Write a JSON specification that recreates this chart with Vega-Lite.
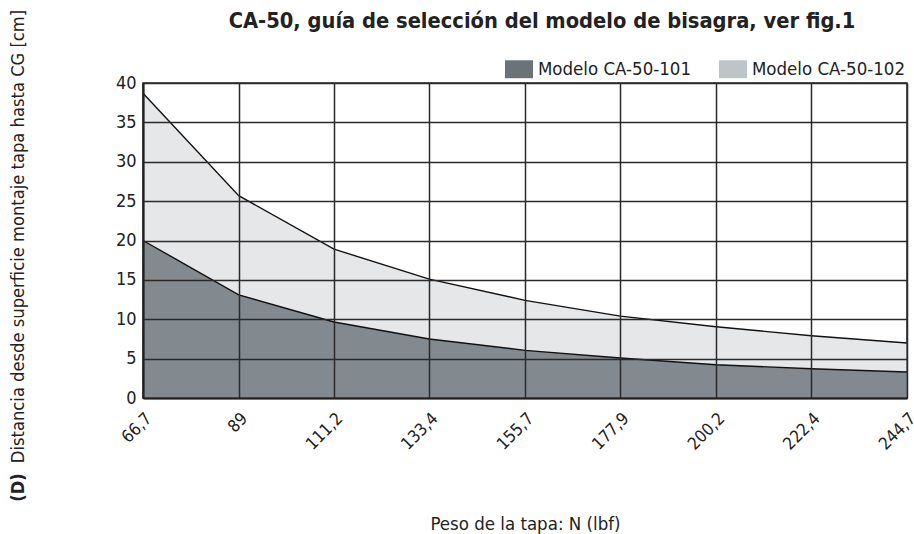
{
  "$schema": "https://vega.github.io/schema/vega-lite/v6.json",
  "width": 764,
  "height": 315,
  "autosize": {"type": "none"},
  "padding": {"left": 143, "top": 83, "right": 7, "bottom": 136},
  "background": "white",
  "title": {
    "text": "CA-50, guía de selección del modelo de bisagra, ver fig.1",
    "fontSize": 21.7,
    "fontWeight": "bold",
    "color": "#222222",
    "anchor": "middle",
    "dx": 17,
    "offset": -23
  },
  "data": {
    "values": [
      {"peso": 66.7, "modelo": "Modelo CA-50-101", "d": 20.0},
      {"peso": 89, "modelo": "Modelo CA-50-101", "d": 13.1},
      {"peso": 111.2, "modelo": "Modelo CA-50-101", "d": 9.65},
      {"peso": 133.4, "modelo": "Modelo CA-50-101", "d": 7.5},
      {"peso": 155.7, "modelo": "Modelo CA-50-101", "d": 6.05},
      {"peso": 177.9, "modelo": "Modelo CA-50-101", "d": 5.08},
      {"peso": 200.2, "modelo": "Modelo CA-50-101", "d": 4.23},
      {"peso": 222.4, "modelo": "Modelo CA-50-101", "d": 3.72},
      {"peso": 244.7, "modelo": "Modelo CA-50-101", "d": 3.3},
      {"peso": 66.7, "modelo": "Modelo CA-50-102", "d": 38.7},
      {"peso": 89, "modelo": "Modelo CA-50-102", "d": 25.7},
      {"peso": 111.2, "modelo": "Modelo CA-50-102", "d": 18.9},
      {"peso": 133.4, "modelo": "Modelo CA-50-102", "d": 15.1},
      {"peso": 155.7, "modelo": "Modelo CA-50-102", "d": 12.4},
      {"peso": 177.9, "modelo": "Modelo CA-50-102", "d": 10.4},
      {"peso": 200.2, "modelo": "Modelo CA-50-102", "d": 9.05},
      {"peso": 222.4, "modelo": "Modelo CA-50-102", "d": 7.9},
      {"peso": 244.7, "modelo": "Modelo CA-50-102", "d": 6.98}
    ]
  },
  "layer": [
    {
      "transform": [{"filter": "datum.modelo == 'Modelo CA-50-102'"}],
      "mark": {"type": "area", "interpolate": "linear", "fillOpacity": 0.4},
      "encoding": {
        "x": {
          "field": "peso", "type": "quantitative",
          "scale": {"domain": [66.7, 244.7], "nice": false, "zero": false},
          "axis": {
            "title": "Peso de la tapa: N (lbf)",
            "values": [66.7, 89, 111.2, 133.4, 155.7, 177.9, 200.2, 222.4, 244.7],
            "labelExpr": "replace(toString(datum.value), '.', ',')",
            "labelAngle": -45,
            "labelFontSize": 17,
            "labelPadding": 12,
            "titleFontSize": 18.5,
            "titleFontWeight": "normal",
            "titlePadding": 62,
            "zindex": 1
          }
        },
        "y": {
          "field": "d", "type": "quantitative",
          "scale": {"domain": [0, 40], "nice": false},
          "axis": {
            "title": "Distancia desde superficie montaje tapa hasta CG [cm]",
            "values": [0, 5, 10, 15, 20, 25, 30, 35, 40],
            "labelFontSize": 18,
            "labelPadding": 7,
            "titleFontSize": 18.2,
            "titleFontWeight": "normal",
            "titleX": -125,
            "titleY": 153,
            "titleAlign": "center",
            "titleBaseline": "middle",
            "orient": "left",
            "zindex": 1
          }
        },
        "color": {
          "field": "modelo", "type": "nominal",
          "scale": {"domain": ["Modelo CA-50-101", "Modelo CA-50-102"], "range": ["#697378", "#bec4c7"]},
          "legend": {
            "title": null,
            "orient": "none",
            "direction": "horizontal",
            "legendX": 362,
            "legendY": -28,
            "labelFontSize": 18.5,
            "labelLimit": 400,
            "labelOffset": 5,
            "columnPadding": 28,
            "symbolType": "M-1,-0.64L1,-0.64L1,0.64L-1,0.64Z",
            "symbolSize": 784,
            "symbolStrokeWidth": 0,
            "symbolOpacity": 1
          }
        }
      }
    },
    {
      "transform": [{"filter": "datum.modelo == 'Modelo CA-50-101'"}],
      "mark": {"type": "area", "interpolate": "linear", "fillOpacity": 0.8},
      "encoding": {
        "x": {"field": "peso", "type": "quantitative"},
        "y": {
          "field": "d", "type": "quantitative",
          "axis": {
            "title": "(D)",
            "orient": "left",
            "labels": false,
            "ticks": false,
            "domain": false,
            "grid": false,
            "titleFontSize": 18.2,
            "titleFontWeight": "bold",
            "titleX": -125,
            "titleY": 404,
            "titleAlign": "center",
            "titleBaseline": "middle",
            "zindex": 1
          }
        },
        "color": {"field": "modelo", "type": "nominal"}
      }
    },
    {
      "mark": {"type": "line", "interpolate": "linear", "color": "#111111", "strokeWidth": 1.4},
      "encoding": {
        "x": {"field": "peso", "type": "quantitative"},
        "y": {"field": "d", "type": "quantitative", "axis": null},
        "detail": {"field": "modelo", "type": "nominal"}
      }
    }
  ],
  "resolve": {"axis": {"y": "independent"}},
  "config": {
    "font": "DejaVu Sans Condensed, Roboto Condensed, Roboto, sans-serif",
    "view": {"stroke": "#222222", "strokeWidth": 1.5},
    "axis": {
      "zindex": 1,
      "grid": true,
      "gridColor": "#2a2a2a",
      "gridWidth": 1.5,
      "gridOpacity": 1,
      "ticks": false,
      "domainColor": "#222222",
      "domainWidth": 2,
      "labelColor": "#222222",
      "titleColor": "#222222"
    },
    "legend": {"labelColor": "#222222"}
  }
}
